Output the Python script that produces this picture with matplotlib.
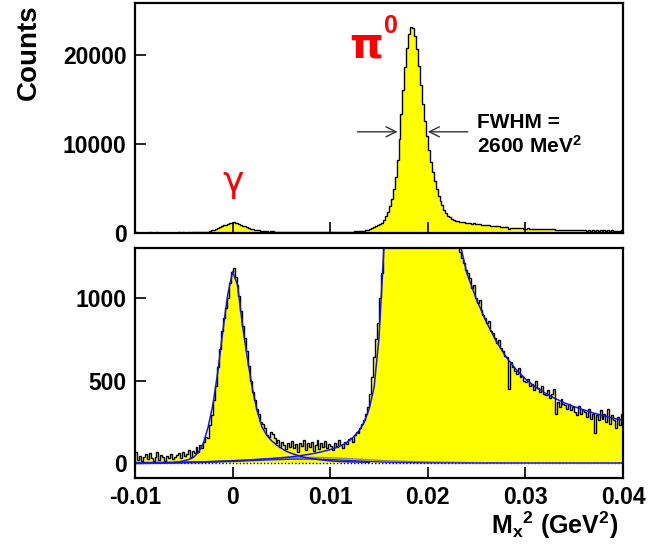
import numpy as np
import matplotlib
matplotlib.use("Agg")
import matplotlib.pyplot as plt

plt.rcParams['font.family'] = ['Liberation Sans', 'DejaVu Sans']
plt.rcParams['font.weight'] = 'bold'
plt.rcParams['mathtext.fontset'] = 'custom'
plt.rcParams['mathtext.rm'] = 'Liberation Sans:bold'
plt.rcParams['mathtext.bf'] = 'Liberation Sans:bold'
plt.rcParams['mathtext.default'] = 'bf'

# histogram: 250 bins of 0.0002 GeV^2 from -0.01 to 0.04
x_min, x_max, n_bins = -0.01, 0.04, 250
counts = [
    70, 20, 45, 10, 35, 55, 25, 60, 30, 15,
    40, 65, 20, 50, 35, 15, 45, 30, 55, 25,
    35, 50, 60, 30, 70, 45, 55, 80, 40, 75,
    60, 95, 70, 110, 90, 130, 160, 150, 230, 290,
    380, 470, 580, 690, 800, 880, 940, 1000, 1090, 1160,
    1180, 1130, 1080, 1010, 920, 830, 760, 680, 590, 500,
    430, 380, 330, 300, 250, 240, 210, 170, 160, 190,
    175, 150, 120, 140, 95, 130, 110, 85, 125, 100,
    135, 90, 115, 70, 125, 105, 140, 80, 120, 95,
    130, 75, 110, 140, 85, 120, 100, 135, 90, 115,
    105, 80, 125, 95, 140, 110, 90, 130, 115, 145,
    150, 130, 170, 190, 180, 210, 240, 260, 300, 340,
    420, 520, 640, 750, 850, 1000, 1150, 1500, 1900, 2400,
    3000, 3800, 4900, 6300, 8200, 10500, 13300, 16000, 18600, 20800,
    22300, 23100, 23000, 22100, 20600, 18700, 16600, 14500, 12600, 10900,
    9300, 8000, 6800, 5800, 4900, 4200, 3600, 3100, 2600, 2250,
    1950, 1750, 1580, 1460, 1380, 1320, 1280, 1240, 1210, 1170,
    1150, 1120, 1060, 1080, 1000, 970, 990, 930, 900, 880,
    850, 860, 800, 790, 760, 730, 745, 700, 680, 650,
    640, 450, 610, 580, 560, 540, 575, 520, 530, 500,
    490, 510, 470, 480, 440, 500, 455, 430, 470, 420,
    410, 440, 395, 420, 450, 300, 370, 340, 390, 360,
    350, 330, 360, 320, 340, 310, 290, 345, 300, 320,
    310, 280, 330, 270, 300, 185, 290, 260, 320, 270,
    300, 250, 330, 240, 290, 260, 210, 280, 230, 300,
]

# fit components
gamma_x = [-0.0060, -0.0055, -0.0050, -0.0045, -0.0040, -0.0035, -0.0030, -0.0025,
           -0.0020, -0.0015, -0.0010, -0.0005, 0.0000, 0.0005, 0.0010, 0.0015,
           0.0020, 0.0025, 0.0030, 0.0035, 0.0040, 0.0045, 0.0050, 0.0055,
           0.0060, 0.0065, 0.0070, 0.0075, 0.0080, 0.0085, 0.0090, 0.0095,
           0.0100, 0.0110, 0.0120, 0.0140]
gamma_y = [5, 8, 14, 22, 35, 65, 120, 220,
           360, 560, 800, 1020, 1160, 1080, 840, 640,
           460, 320, 220, 170, 135, 110, 90, 72,
           60, 50, 40, 34, 28, 24, 20, 17,
           14, 10, 8, 5]

pi_x = [-0.010, -0.006, -0.003, 0.000, 0.002, 0.004, 0.006, 0.007, 0.008, 0.009,
        0.010, 0.0105, 0.011, 0.0115, 0.012, 0.0125, 0.013, 0.0135, 0.014, 0.0145,
        0.015, 0.0155, 0.016, 0.017, 0.018, 0.0185, 0.019, 0.020, 0.021, 0.022,
        0.023, 0.0235, 0.024, 0.025, 0.026, 0.027, 0.028, 0.029, 0.030, 0.031,
        0.032, 0.033, 0.034, 0.035, 0.036, 0.037, 0.038, 0.039, 0.040]
pi_y = [3, 5, 8, 14, 20, 28, 38, 46, 55, 67,
        82, 92, 104, 118, 138, 165, 200, 250, 330, 460,
        760, 1300, 3000, 11000, 21000, 23000, 19000, 9500, 4200, 1950,
        1400, 1280, 1150, 990, 855, 740, 645, 570, 510, 462,
        425, 393, 365, 342, 322, 303, 287, 272, 258]

bkg_x = [-0.010, -0.006, -0.003, 0.000, 0.003, 0.006, 0.008, 0.010,
         0.012, 0.014, 0.016, 0.020, 0.025, 0.030, 0.040]
bkg_gray = [0, 3, 8, 15, 24, 32, 35, 33, 27, 20, 14, 7, 3, 1, 0]
bkg_blue = [-3, 0, 4, 10, 18, 24, 25, 22, 16, 10, 5, 2, 1, 1, 1]

edges = np.linspace(x_min, x_max, n_bins + 1)
W, H = 663, 546

fig = plt.figure(figsize=(W / 100, H / 100), dpi=100)
ax1 = fig.add_axes([135 / W, 1 - 233 / H, 488 / W, 230 / H])
ax2 = fig.add_axes([135 / W, 1 - 478 / H, 488 / W, 230 / H])

for ax in (ax1, ax2):
    ax.stairs(counts, edges, fill=True, color='#ffff00', baseline=0)
    ax.stairs(counts, edges, color='black', lw=1.0, baseline=None)
    ax.set_xlim(x_min, x_max)
    for s in ax.spines.values():
        s.set_linewidth(1.6)
    ax.tick_params(direction='in', length=8, width=1.2, labelsize=16.5,
                   top=False, right=False, pad=6)

# top panel
ax1.set_ylim(0, 25800)
ax1.set_yticks([0, 10000, 20000])
ax1.set_yticklabels(['0', '10000', '20000'])
ax1.set_xticks([0, 0.01, 0.02, 0.03])
ax1.set_xticklabels([])

def px(xp, yp):
    return xp / W, 1 - yp / H

fig.text(*px(29, 52), 'Counts', rotation=90, ha='center', va='center',
         fontsize=20, fontweight='bold')
fig.text(*px(366, 45), '\u03c0', color='red', ha='center', va='center',
         fontsize=31, family='DejaVu Sans', fontweight='bold')
fig.text(*px(391, 26), '0', color='red', ha='center', va='center',
         fontsize=18, fontweight='bold')
fig.text(*px(233, 182), '\u03b3', color='red', ha='center', va='center',
         fontsize=26, family='DejaVu Sans', fontweight='normal')

y_arrow = 11350
ax1.annotate('', xy=(0.0169, y_arrow), xytext=(0.0128, y_arrow),
             arrowprops=dict(arrowstyle='->', color='#333333', lw=1.0,
                             mutation_scale=18, shrinkA=0, shrinkB=0))
ax1.annotate('', xy=(0.0200, y_arrow), xytext=(0.0241, y_arrow),
             arrowprops=dict(arrowstyle='->', color='#333333', lw=1.0,
                             mutation_scale=18, shrinkA=0, shrinkB=0))
fig.text(*px(477, 123), 'FWHM =', ha='left', va='center', fontsize=15,
         fontweight='bold')
fig.text(*px(477, 146), r'2600 MeV$^{2}$', ha='left', va='center',
         fontsize=15, fontweight='bold')

# bottom panel
ax2.axhline(0, color='black', lw=1.0, ls=(0, (1, 1.5)))
ax2.plot(bkg_x, bkg_gray, color='#888888', lw=1.0)
ax2.plot(bkg_x, bkg_blue, color='#2020ff', lw=1.0)
ax2.plot(gamma_x, gamma_y, color='#1010ff', lw=1.1)
ax2.plot(pi_x, pi_y, color='#1010ff', lw=1.1)
ax2.set_ylim(-90, 1303)
ax2.set_yticks([0, 500, 1000])
ax2.set_yticklabels(['0', '500', '1000'])
ax2.set_xticks([-0.01, 0, 0.01, 0.02, 0.03, 0.04])
ax2.set_xticklabels(['-0.01', '0', '0.01', '0.02', '0.03', '0.04'])

fig.text(*px(618, 525), r'M$_{x}$$^{2}$ (GeV$^{2}$)', ha='right',
         va='center', fontsize=18, fontweight='bold')

fig.savefig('out.png', dpi=100)
